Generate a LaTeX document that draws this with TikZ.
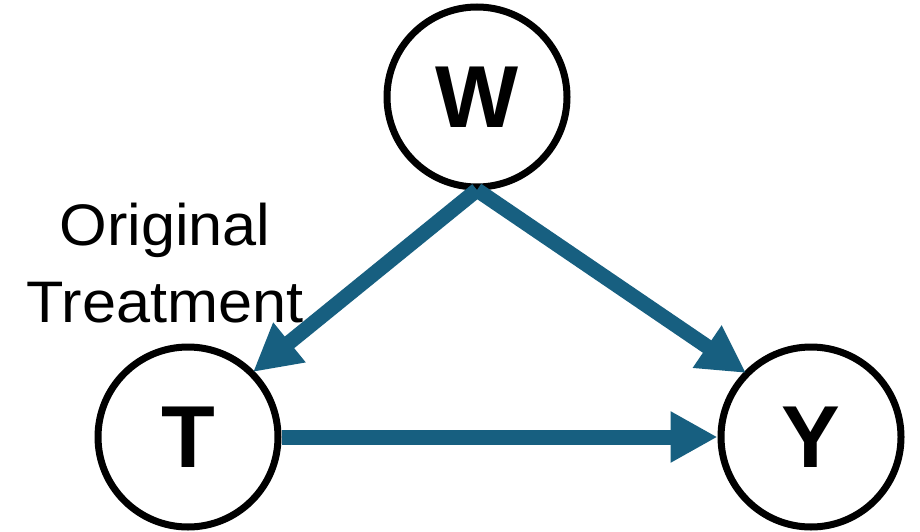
\documentclass[tikz,border=0pt]{standalone}
\usepackage{fontspec}
\setmainfont{Liberation Sans}
\usetikzlibrary{arrows.meta}
\definecolor{arrowblue}{RGB}{23,95,128}
\tikzset{
  var/.style={circle, draw=black, line width=7pt, minimum size=180pt, inner sep=0pt,
    font=\fontsize{88}{88}\selectfont\bfseries},
  edge/.style={draw=arrowblue, line width=15pt,
    -{Triangle[length=47pt,width=48pt]}},
  lbl/.style={anchor=base, inner sep=0pt, xscale=1.045, transform shape,
    font=\fontsize{58.6}{70}\selectfont}
}
\begin{document}
\begin{tikzpicture}[x=1pt,y=-1pt]
\useasboundingbox (0,0) rectangle (920,532);
\node[var] (W) at (477,97) {W};
\node[var] (T) at (188,437) {T};
\node[var] (Y) at (811,437) {Y};
\coordinate (Wb) at (477,190);
\coordinate (Ttip) at (253,372);
\coordinate (Ytip) at (746,373);
\node[lbl] (o1) at (165,245) {Original};
\node[lbl] (o2) at (165,322) {Treatment};
\draw[edge] (Wb) -- (Ttip);
\draw[edge] (Wb) -- (Ytip);
\draw[edge] (T.east) -- (Y.west);
\end{tikzpicture}
\end{document}
